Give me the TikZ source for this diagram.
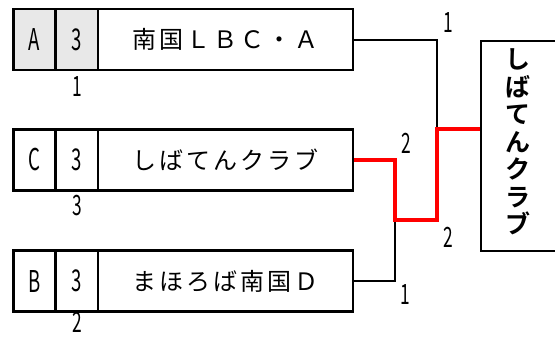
\documentclass[tikz,border=0pt]{standalone}
\usepackage{fontspec}
\usepackage{graphicx}
\setmainfont{Noto Sans CJK JP}
\newfontfamily\jpname[LetterSpace=12]{Noto Sans CJK JP}
\newfontfamily\jpbold[BoldFont={Noto Sans CJK JP Bold}]{Noto Sans CJK JP}
\newcommand\narrowtxt[1]{\scalebox{0.62}[1]{#1}}
\definecolor{cellgrey}{RGB}{232,232,232}
\definecolor{winred}{RGB}{255,0,0}
\tikzset{
  cellbox/.style={draw=black, line width=2.2pt, inner sep=0pt, minimum width=42pt, minimum height=61pt,
    font=\fontsize{30}{30}\selectfont},
  namebox/.style={draw=black, line width=2.2pt, inner sep=0pt, minimum width=255pt, minimum height=61pt,
    font=\jpname\fontsize{24}{24}\selectfont},
  winbox/.style={draw=black, line width=2.2pt, inner sep=0pt, minimum width=85pt, minimum height=210pt},
  numlbl/.style={inner sep=0pt, font=\fontsize{28}{28}\selectfont},
  bline/.style={draw=black, line width=2pt},
  rline/.style={draw=winred, line width=3.5pt},
}
\begin{document}
\begin{tikzpicture}[x=1pt,y=-1pt]
\useasboundingbox (0,0) rectangle (555,338);
% row 1
\node[cellbox, fill=cellgrey] (a1) at (34.5,39.5) {\narrowtxt{A}};
\node[cellbox, fill=cellgrey] (b1) at (77,39.5) {\narrowtxt{3}};
\node[namebox] (n1) at (225.5,39.5) {南国ＬＢＣ・Ａ};
% row 2
\node[cellbox] (a2) at (34.5,160) {\narrowtxt{C}};
\node[cellbox] (b2) at (77,160) {\narrowtxt{3}};
\node[namebox] (n2) at (225.5,160) {しばてんクラブ};
% row 3
\node[cellbox] (a3) at (34.5,281) {\narrowtxt{B}};
\node[cellbox] (b3) at (77,281) {\narrowtxt{3}};
\node[namebox] (n3) at (225.5,281) {まほろば南国Ｄ};
% winner
\node[winbox, anchor=north west] (w) at (480,40) {};
\node[inner sep=0pt, align=center, font=\jpbold\bfseries\fontsize{25}{27.5}\selectfont] (wt) at (518,142)
  {し\\ば\\て\\ん\\ク\\ラ\\ブ};
% scores under cells
\node[numlbl] (s1) at (77,87) {\narrowtxt{1}};
\node[numlbl] (s2) at (77,206) {\narrowtxt{3}};
\node[numlbl] (s3) at (77,322) {\narrowtxt{2}};
% bracket coordinates
\coordinate (j1) at (437,129);
\coordinate (j2) at (395,220);
\coordinate (j2r) at (437,220);
\coordinate (wj) at (w.west |- j1);
% connectors
\draw[bline] (n1.east) -| (j1);
\draw[bline] (n3.east) -| (j2);
\draw[rline] (n2.east) -| (j2) -- (j2r) -- (j1) -- (wj);
% match scores
\node[numlbl] (m1) at (448,23) {\narrowtxt{1}};
\node[numlbl] (m2) at (406,143) {\narrowtxt{2}};
\node[numlbl] (m3) at (448,237) {\narrowtxt{2}};
\node[numlbl] (m4) at (405,295) {\narrowtxt{1}};
\end{tikzpicture}
\end{document}
